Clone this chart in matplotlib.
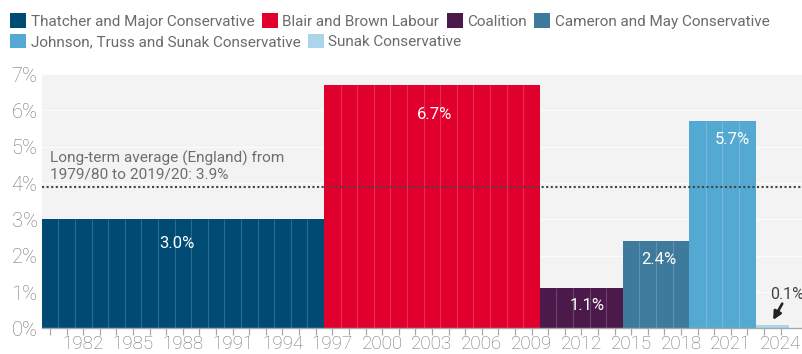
import matplotlib
matplotlib.use("Agg")
import matplotlib.pyplot as plt
from matplotlib.patches import Patch

plt.rcParams['font.family'] = ['Roboto', 'DejaVu Sans']

# Government eras: name, first and last financial year (year ending), average real growth (%)
era_names = [
    "Thatcher and Major Conservative",
    "Blair and Brown Labour",
    "Coalition",
    "Cameron and May Conservative",
    "Johnson, Truss and Sunak Conservative",
    "Sunak Conservative",
]
era_start = [1980, 1997, 2010, 2015, 2019, 2023]
era_end = [1996, 2009, 2014, 2018, 2022, 2024]
era_growth = [3.0, 6.7, 1.1, 2.4, 5.7, 0.1]
era_colors = ["#004b74", "#e1002d", "#4b1a4a", "#3d7a9b", "#54a9d2", "#a9d6ea"]

long_term_avg = 3.9
avg_label = "Long-term average (England) from\n1979/80 to 2019/20: 3.9%"

first_year = era_start[0]
last_year = era_end[-1]
years = list(range(first_year, last_year + 1))

fig = plt.figure(figsize=(8.03, 3.54), dpi=100)
ax = fig.add_axes([0.052, 0.0725, 0.948, 0.718])
ax.set_facecolor("#f3f3f3")

grey_text = "#747474"

# one bar per year, coloured by era
for name, s, e, g, c in zip(era_names, era_start, era_end, era_growth, era_colors):
    xs = [y - first_year for y in range(s, e + 1)]
    ax.bar(xs, [g] * len(xs), width=1.0, color=c, linewidth=0, zorder=3)
    # faint separators between the years within an era
    seps = [x + 0.5 for x in xs[:-1]]
    ax.vlines(seps, 0, g, color=(1, 1, 1, 0.18), linewidth=0.8, zorder=4)

# value labels inside the bars (offsets in points below the bar top)
label_offsets = [(-4, -17), (2, -21), (4, -12), (2, -13), (7, -13)]
for (s, e, g), (dx, dy) in zip(zip(era_start[:-1], era_end[:-1], era_growth[:-1]), label_offsets):
    xc = (s - first_year + e - first_year) / 2
    ax.annotate(f"{g:.1f}%", xy=(xc, g), xytext=(dx, dy), textcoords="offset points",
                ha="center", va="center", color="white", fontsize=12,
                zorder=6)

# small last bar gets an arrowed label outside
xs_last = era_end[-1] - first_year
ax.annotate("", xy=(xs_last - 0.45, era_growth[-1] + 0.13),
            xytext=(xs_last + 0.1, era_growth[-1] + 0.58), textcoords="data",
            annotation_clip=False, zorder=6,
            arrowprops=dict(arrowstyle="-|>", color="#222222", lw=1.9,
                            mutation_scale=12, shrinkA=0, shrinkB=0))
ax.text(xs_last - 0.62, era_growth[-1] + 0.84, f"{era_growth[-1]:.1f}%",
        ha="left", va="center", color="#444444", fontsize=11.5, zorder=6, clip_on=False)

# long-term average
ax.axhline(long_term_avg, color="#444444", linestyle=(0, (1, 1.2)), linewidth=1.5, zorder=5)
ax.text(0.0, 4.47, avg_label, ha="left", va="center", color="#6e6e6e",
        fontsize=11.1, linespacing=1.2, zorder=6)

ax.set_xlim(-0.5, 45.35)
ax.set_ylim(0, 7)
ax.set_yticks(range(0, 8))
ax.set_yticklabels([f"{v}%" for v in range(0, 8)])
ax.set_xticks([y - first_year for y in years])
ax.set_xticklabels([str(y) if (y - 1982) % 3 == 0 else "" for y in years])
for lbl in ax.get_xticklabels() + ax.get_yticklabels():
    lbl.set_fontweight("light")

ax.grid(axis="y", color="#fbfbfb", linewidth=1.0, zorder=0)
ax.set_axisbelow(True)
for side in ["top", "right", "left"]:
    ax.spines[side].set_visible(False)
ax.spines["bottom"].set_color("#a8a8a8")
ax.spines["bottom"].set_linewidth(1.0)
ax.spines["bottom"].set_zorder(7)

ax.tick_params(axis="y", length=0, pad=3, labelsize=14.5, labelcolor=grey_text)
ax.tick_params(axis="x", length=5, width=0.9, color="#a8a8a8", pad=0,
               labelsize=13.5, labelcolor=grey_text)

# legend laid out in two flowing rows
handles = [Patch(facecolor=c, edgecolor="none", label=n) for n, c in zip(era_names, era_colors)]
common = dict(frameon=False, fontsize=11, handlelength=1.05, handleheight=1.05,
              handletextpad=0.28, columnspacing=0.5, labelcolor="#6b6b6b",
              borderaxespad=0, borderpad=0)
leg1 = fig.legend(handles=handles[:4], ncol=4, loc="upper left",
                  bbox_to_anchor=(0.013, 0.962), **common)
leg2 = fig.legend(handles=handles[4:], ncol=2, loc="upper left",
                  bbox_to_anchor=(0.013, 0.905), **common)

fig.savefig("out.png", dpi=100)
